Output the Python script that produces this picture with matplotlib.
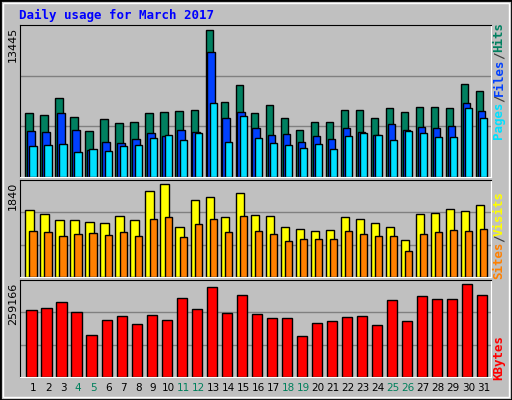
import matplotlib
matplotlib.use("Agg")
import matplotlib.pyplot as plt
from matplotlib.patches import Rectangle
import numpy as np

days = list(range(1, 32))
weekends = [4, 5, 11, 12, 18, 19, 25, 26]
hits = [5871,5689,7240,5506,4228,5324,4958,5050,5871,5962,6054,6145,13445,6875,8426,5871,6601,5415,4320,5050,5050,6145,6145,5415,6327,5962,6419,6419,6327,8518,7879]
files = [4228,4137,5871,4320,2494,3225,3133,3498,4046,3772,4320,4137,11438,5415,5962,4502,3863,3955,3225,3772,3498,4502,4137,3863,4867,4320,4593,4502,4685,6784,6054]
pages = [2859,2951,3042,2312,2586,2403,2859,2951,3590,3863,3407,4046,6784,3225,5597,3590,3133,2951,2677,3042,2586,3772,4046,3863,3407,4228,4046,3681,3681,6327,5415]
visits = [1340,1260,1140,1140,1100,1080,1220,1140,1700,1840,1000,1520,1580,1200,1660,1240,1220,1000,960,920,940,1200,1160,1080,1000,740,1260,1280,1360,1320,1440]
sites = [920,900,820,860,880,840,900,820,1160,1200,800,1060,1160,900,1220,920,860,720,760,760,760,920,860,820,820,520,860,900,940,920,960]
kbytes = [187961,193657,207897,182266,116764,159482,170874,148091,173722,159482,219288,190809,250615,179418,227832,176570,165178,165178,113916,150939,156635,168026,170874,145243,213593,156635,224984,216440,216440,259166,227832]

BG = "#C0C0C0"
W, H = 512, 400
fig = plt.figure(figsize=(W/100, H/100), dpi=100, facecolor=BG)
x = np.array(days)

def ax_at(x0, y0, x1, y1):
    return fig.add_axes([x0/W, 1-y1/H, (x1-x0)/W, (y1-y0)/H])

def style(ax, top, label, ytop_px):
    ax.set_facecolor(BG)
    ax.set_xlim(1-0.87, 31+0.51)
    ax.set_ylim(0, top)
    for f in (1/3, 2/3):
        ax.axhline(top*f, color="#808080", lw=1, zorder=0)
    ax.set_yticks([])
    ax.set_xticks([])
    for s in ax.spines.values():
        s.set_color("black")
    ax.spines["right"].set_color("white"); ax.spines["bottom"].set_color("white")
    fig.text(13/W, 1-ytop_px/H, label, rotation=90, ha="center", va="top",
             fontsize=8, family="DejaVu Sans")

kw = dict(edgecolor="black", linewidth=1, align="edge")

a1 = ax_at(20, 25, 491, 177)
top1 = 13445*152/147.4
a1.bar(x-0.51, hits, 0.49, color="#008060", **kw)
a1.bar(x-0.38, files, 0.49, color="#0040FF", **kw)
a1.bar(x-0.24, pages, 0.49, color="#00E0FF", **kw)
style(a1, top1, "13445", 27)

a2 = ax_at(20, 180, 491, 277)
top2 = 1840*289/276
a2.bar(x-0.51, visits, 0.56, color="#FFFF00", **kw)
a2.bar(x-0.24, sites, 0.49, color="#FF8000", **kw)
style(a2, top2, "1840", 182)

a3 = ax_at(20, 280, 491, 377)
top3 = 259166*285/273
a3.bar(x-0.44, kbytes, 0.69, color="#FF0000", **kw)
style(a3, top3, "259166", 283)

for d in days:
    xf = (20 + (d - (1-0.87)) / (31.51 - 0.13) * 471) / W
    fig.text(xf, 1-388/H, str(d), ha="center", va="center", fontsize=7.5,
             color="#00805C" if d in weekends else "black")

fig.text(19/W, 1-15/H, "Daily usage for March 2017", fontsize=9, weight="bold",
         family="DejaVu Sans Mono", color="#0000FF", va="center", ha="left")

def rlabel(parts, ybot):
    y = ybot
    for txt, col in parts:
        n = len(txt)
        h = n*6.6
        fig.text(499/W, 1-(y-h/2)/H, txt, rotation=90, ha="center", va="center",
                 fontsize=9, family="DejaVu Sans Mono", weight="bold", color=col)
        y -= h + 2

rlabel([("Pages", "#00E0FF"), ("/", "#404040"), ("Files", "#0040FF"), ("/", "#404040"), ("Hits", "#008060")], 137)
rlabel([("Sites", "#FF8000"), ("/", "#404040"), ("Visits", "#FFFF00")], 277)
rlabel([("KBytes", "#FF0000")], 377)

fig.patches.append(Rectangle((0, 0), 1, 1, transform=fig.transFigure, fill=False,
                             edgecolor="black", linewidth=2))
fig.patches.append(Rectangle((3/W, 3/H), 1-6/W, 1-6/H, transform=fig.transFigure, fill=False,
                             edgecolor="white", linewidth=1))
fig.savefig("out.png", dpi=100, facecolor=BG)
